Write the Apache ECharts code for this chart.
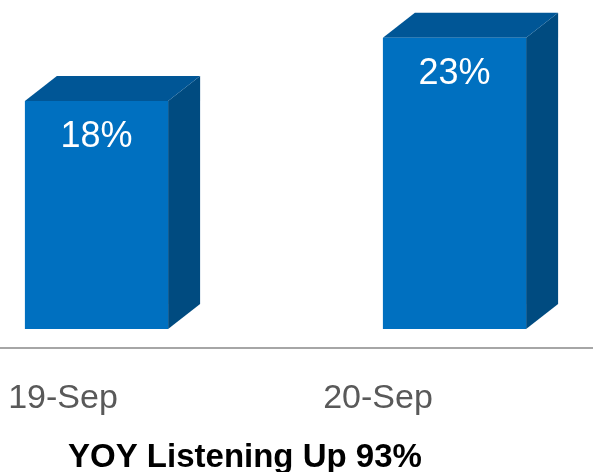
<!DOCTYPE html>
<html>
<head>
<meta charset="utf-8">
<script src="https://cdn.jsdelivr.net/npm/echarts@6/dist/echarts.min.js"></script>
<style>html,body{margin:0;padding:0;background:#fff;}#c{width:593px;height:472px;}</style>
</head>
<body>
<div id="c"></div>
<script>
var categories = ['19-Sep', '20-Sep'];
var values = [18, 23];
var titleText = 'YOY Listening Up 93%';

var chart = echarts.init(document.getElementById('c'), null, {renderer: 'canvas'});
var FONT = '"Liberation Sans", Arial, sans-serif';

chart.setOption({
  animation: false,
  backgroundColor: '#ffffff',
  title: {
    text: titleText,
    left: 63,
    top: 436,
    textStyle: {fontFamily: FONT, fontSize: 33, fontWeight: 'bold', color: '#000000'}
  },
  grid: [
    {left: 96.5, right: 138.5, top: 12.5, bottom: 143},
    {left: 0, right: 0, top: 348, height: 0},
    {left: 63, right: 215, top: 347, height: 0}
  ],
  xAxis: [
    {gridIndex: 0, type: 'category', data: categories, boundaryGap: false, show: false},
    {gridIndex: 1, type: 'category', data: categories, boundaryGap: true,
      axisLine: {show: true, lineStyle: {color: '#a6a6a6', width: 2}},
      axisTick: {show: false}, axisLabel: {show: false}},
    {gridIndex: 2, type: 'category', data: categories, boundaryGap: false,
      axisLine: {show: false}, axisTick: {show: false},
      axisLabel: {show: true, margin: 35, fontFamily: FONT, fontSize: 34, color: '#595959'}}
  ],
  yAxis: [
    {gridIndex: 0, type: 'value', min: 0, max: 25, show: false},
    {gridIndex: 1, type: 'value', show: false},
    {gridIndex: 2, type: 'value', show: false}
  ],
  series: [{
    type: 'custom',
    xAxisIndex: 0,
    yAxisIndex: 0,
    data: values.map(function (v, i) { return [i, v]; }),
    renderItem: function (params, api) {
      var base = api.coord([api.value(0), 0]);
      var top = api.coord([api.value(0), api.value(1)]);
      var w = api.size([1, 0])[0] * 0.4;
      var x0 = top[0] - w / 2, x1 = top[0] + w / 2;
      var dx = 32, dy = -25;
      return {
        type: 'group',
        children: [
          {type: 'polygon', shape: {points: [[x1, top[1]], [x1 + dx, top[1] + dy], [x1 + dx, base[1] + dy], [x1, base[1]]]}, style: {fill: '#004b80'}},
          {type: 'polygon', shape: {points: [[x0, top[1]], [x0 + dx, top[1] + dy], [x1 + dx, top[1] + dy], [x1, top[1]]]}, style: {fill: '#005696'}},
          {type: 'rect', shape: {x: x0, y: top[1], width: w, height: base[1] - top[1]}, style: {fill: '#0070c0'}},
          {type: 'text', style: {text: api.value(1) + '%', x: top[0], y: top[1] + 36, align: 'center', verticalAlign: 'middle', fill: '#ffffff', font: '36px ' + FONT}}
        ]
      };
    }
  }]
});
</script>
</body>
</html>
